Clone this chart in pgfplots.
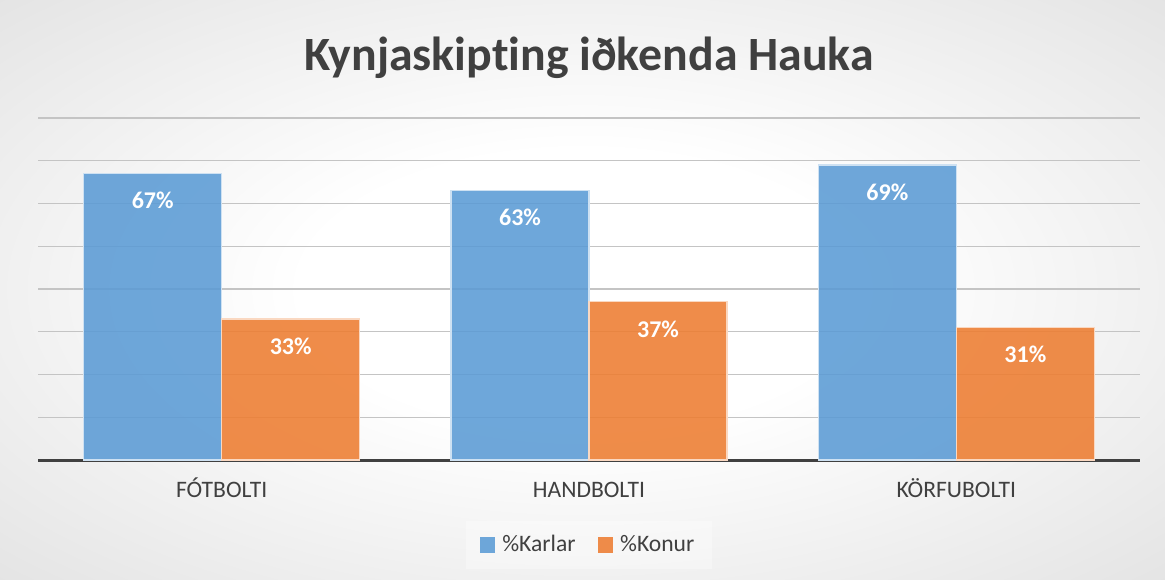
\documentclass[border=0pt]{standalone}
\usepackage{pgfplots}
\pgfplotsset{compat=1.18}
\usepackage{fontspec}
\setmainfont{Carlito}[Ligatures=NoCommon]
\definecolor{bblue}{HTML}{5B9BD5}
\definecolor{borange}{HTML}{ED7D31}
\definecolor{txt}{HTML}{404040}
\definecolor{gridc}{HTML}{C4C4C4}
\pgfdeclareradialshading{bgshade}{\pgfpoint{0bp}{0bp}}{color(0bp)=(white); color(12bp)=(white); color(50bp)=(black!17); color(71bp)=(black!23)}
\begin{document}
\begin{tikzpicture}
\shade[shading=bgshade] (0,0) rectangle (582.5pt,289.5pt);
\node[font=\fontsize{23.9}{28}\selectfont\bfseries, text=txt] at (294.5pt,260.5pt) {Kynjaskipting iðkenda Hauka};
\begin{axis}[at={(19pt,59.5pt)}, anchor=south west, scale only axis, width=551pt, height=171pt,
  /pgf/number format/assume math mode=true,
  ybar=0pt, bar width=69pt, xmin=-0.5, xmax=2.5, ymin=0, ymax=80,
  xtick=data, xticklabels={FÓTBOLTI,HANDBOLTI,KÖRFUBOLTI},
  ytick={10,20,...,80}, yticklabels={}, ymajorgrids, grid style={gridc, line width=0.6pt},
  axis x line*=bottom, axis y line*=left,
  y axis line style={draw=none}, ytick style={draw=none}, xtick style={draw=none},
  x axis line style={line width=1.5pt, txt, -},
  xticklabel style={font=\fontsize{11.8}{14}\selectfont, text=txt, anchor=north, text height=8.5pt, text depth=2pt, yshift=-2.5pt},
  nodes near coords={\pgfmathprintnumber{\pgfplotspointmeta}\%},
  every node near coord/.append style={font=\fontsize{12}{14}\selectfont\bfseries, text=white, text opacity=1, anchor=center, yshift=-13.5pt},
  legend style={at={(0.5,-0.2485)}, anchor=center, draw=none, fill=white, fill opacity=0.35, text opacity=1,
    legend columns=2, font=\fontsize{11.8}{14}\selectfont, text=txt, inner xsep=7pt, inner ysep=5pt,
    /tikz/every even column/.append style={column sep=9pt}},
  legend image code/.code={\fill[#1, draw=none] (0pt,-3.9pt) rectangle (7.8pt,3.9pt); \path (9pt,0pt);},
]
\addplot[fill=bblue, fill opacity=0.88, draw=white!70!bblue, line width=0.6pt] coordinates {(0,67) (1,63) (2,69)};
\addplot[fill=borange, fill opacity=0.88, draw=white!70!borange, line width=0.6pt] coordinates {(0,33) (1,37) (2,31)};
\legend{\%Karlar, \%Konur}
\end{axis}
\end{tikzpicture}
\end{document}
